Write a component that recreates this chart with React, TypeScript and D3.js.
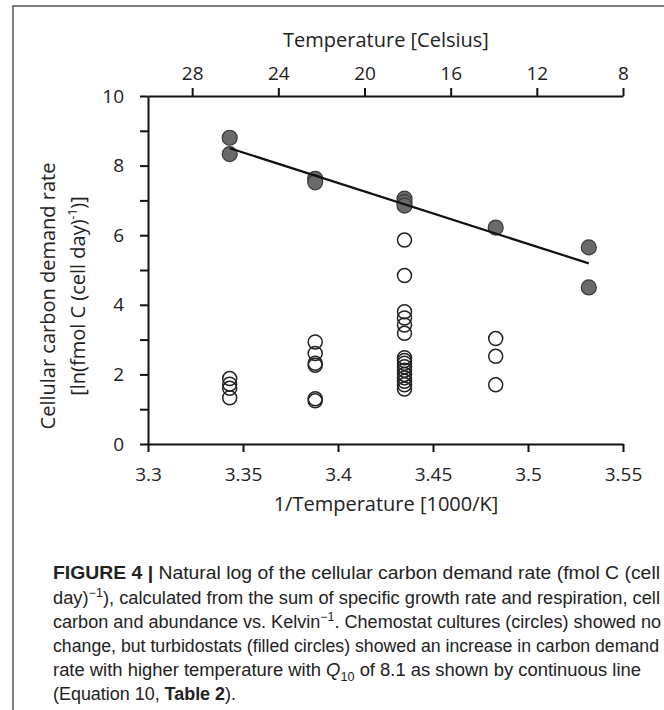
import { useEffect, useRef } from "react";
import * as d3 from "d3";

// inverse temperature (1000/K) and ln carbon demand rate
const turbidoX = [3.343, 3.343, 3.388, 3.388, 3.435, 3.435, 3.435, 3.483, 3.532, 3.532];
const turbidoY = [8.8, 8.33, 7.62, 7.52, 7.05, 6.95, 6.85, 6.22, 5.65, 4.5];

const chemoX = [
  3.343, 3.343, 3.343, 3.343,
  3.388, 3.388, 3.388, 3.388, 3.388, 3.388,
  3.435, 3.435, 3.435, 3.435, 3.435, 3.435, 3.435, 3.435,
  3.435, 3.435, 3.435, 3.435, 3.435, 3.435, 3.435, 3.435,
  3.483, 3.483, 3.483,
];
const chemoY = [
  1.88, 1.72, 1.6, 1.33,
  2.93, 2.6, 2.32, 2.26, 1.3, 1.24,
  5.86, 4.84, 3.8, 3.62, 3.42, 3.18, 2.48, 2.4,
  2.32, 2.22, 2.12, 2.0, 1.9, 1.8, 1.7, 1.58,
  3.03, 2.52, 1.7,
];

const fitX = [3.343, 3.532];
const fitY = [8.5, 5.19];

const invTempTicks = [3.3, 3.35, 3.4, 3.45, 3.5, 3.55];
const celsiusTicks = [28, 24, 20, 16, 12, 8];
const rateTicks = [0, 1, 2, 3, 4, 5, 6, 7, 8, 9, 10];

const W = 664;
const H = 710;
const left = 148;
const right = 623;
const top = 96;
const bottom = 444;
const axisFont = "'Open Sans', Lato, sans-serif";
const capFont = "'Liberation Sans Narrow', 'Liberation Sans', Arial, sans-serif";

export default function App() {
  const gRef = useRef<SVGGElement>(null);

  useEffect(() => {
    const g = d3.select(gRef.current);
    g.selectAll("*").remove();

    const x = d3.scaleLinear().domain([3.3, 3.55]).range([left, right]);
    const xTop = d3.scaleLinear().domain([30.05, 8]).range([left, right]);
    const y = d3.scaleLinear().domain([0, 10]).range([bottom, top]);

    const styleAxis = (sel: any) => {
      sel.select(".domain").attr("stroke", "#111").attr("stroke-width", 2);
      sel.selectAll(".tick line").attr("stroke", "#111").attr("stroke-width", 2);
      sel
        .selectAll(".tick text")
        .attr("fill", "#222")
        .style("font-family", axisFont)
        .style("font-size", "19px");
    };

    g.append("g")
      .attr("transform", `translate(0,${bottom})`)
      .call(
        d3.axisBottom(x).tickValues(invTempTicks).tickSize(8).tickSizeOuter(0).tickPadding(16)
          .tickFormat((d: any) => String(d))
      )
      .call(styleAxis);

    g.append("g")
      .attr("transform", `translate(0,${top})`)
      .call(
        d3.axisTop(xTop).tickValues(celsiusTicks).tickSize(8).tickSizeOuter(0).tickPadding(8)
          .tickFormat((d: any) => String(d))
      )
      .call(styleAxis);

    g.append("g")
      .attr("transform", `translate(${left},0)`)
      .call(
        d3.axisLeft(y).tickValues(rateTicks).tickSize(8).tickSizeOuter(0).tickPadding(16)
          .tickFormat((d: any) => (d % 2 === 0 ? String(d) : ""))
      )
      .call(styleAxis);

    // open circles: chemostat
    g.append("g")
      .selectAll("circle")
      .data(chemoX.map((v, i) => [v, chemoY[i]]))
      .join("circle")
      .attr("cx", (d) => x(d[0]))
      .attr("cy", (d) => y(d[1]))
      .attr("r", 7)
      .attr("fill", "none")
      .attr("stroke", "#222")
      .attr("stroke-width", 1.5);

    // filled circles: turbidostat
    g.append("g")
      .selectAll("circle")
      .data(turbidoX.map((v, i) => [v, turbidoY[i]]))
      .join("circle")
      .attr("cx", (d) => x(d[0]))
      .attr("cy", (d) => y(d[1]))
      .attr("r", 7.5)
      .attr("fill", "#6a6a6a")
      .attr("stroke", "#3a3a3a")
      .attr("stroke-width", 1.2);

    const line = d3
      .line<number>()
      .x((d) => x(d))
      .y((d, i) => y(fitY[i]));
    g.append("path")
      .attr("d", line(fitX))
      .attr("fill", "none")
      .attr("stroke", "#111")
      .attr("stroke-width", 2.2);
  }, []);

  return (
    <svg
      width={W}
      height={H}
      style={{ position: "absolute", left: 0, top: 0, background: "#fff" }}
    >
      <rect x={13} y={6} width={700} height={720} fill="none" stroke="#555" strokeWidth={1.5} />
      <g ref={gRef} />
      <text x={386} y={47} textAnchor="middle" fontFamily={axisFont} fontSize={20} fill="#222">
        Temperature [Celsius]
      </text>
      <text x={386} y={511} textAnchor="middle" fontFamily={axisFont} fontSize={20} fill="#222">
        1/Temperature [1000/K]
      </text>
      <g transform="translate(55,296) rotate(-90)">
        <text x={0} y={0} textAnchor="middle" fontFamily={axisFont} fontSize={20} fill="#222">
          Cellular carbon demand rate
        </text>
        <text x={0} y={30} textAnchor="middle" fontFamily={axisFont} fontSize={20} fill="#222">
          [ln(fmol C (cell day)
          <tspan dy={-8} fontSize={12}>-1</tspan>
          <tspan dy={8}>)]</tspan>
        </text>
      </g>
      <g fontFamily={capFont} fontSize={17.5} fill="#222">
        <text x={53} y={579} textLength={607} lengthAdjust="spacingAndGlyphs">
          <tspan fontWeight="bold">FIGURE 4 |</tspan> Natural log of the cellular carbon demand rate (fmol C (cell
        </text>
        <text x={53} y={604} textLength={607} lengthAdjust="spacingAndGlyphs">
          day)<tspan dy={-7} fontSize={12}>−1</tspan>
          <tspan dy={7}>), calculated from the sum of specific growth rate and respiration, cell</tspan>
        </text>
        <text x={53} y={628} textLength={608} lengthAdjust="spacingAndGlyphs">
          carbon and abundance vs. Kelvin<tspan dy={-7} fontSize={12}>−1</tspan>
          <tspan dy={7}>. Chemostat cultures (circles) showed no</tspan>
        </text>
        <text x={53} y={652} textLength={606} lengthAdjust="spacingAndGlyphs">
          change, but turbidostats (filled circles) showed an increase in carbon demand
        </text>
        <text x={53} y={676} textLength={588} lengthAdjust="spacingAndGlyphs">
          rate with higher temperature with <tspan fontStyle="italic">Q</tspan>
          <tspan dy={5} fontSize={12}>10</tspan>
          <tspan dy={-5}> of 8.1 as shown by continuous line</tspan>
        </text>
        <text x={53} y={700} textLength={183} lengthAdjust="spacingAndGlyphs">
          (Equation 10, <tspan fontWeight="bold">Table 2</tspan>).
        </text>
      </g>
    </svg>
  );
}
